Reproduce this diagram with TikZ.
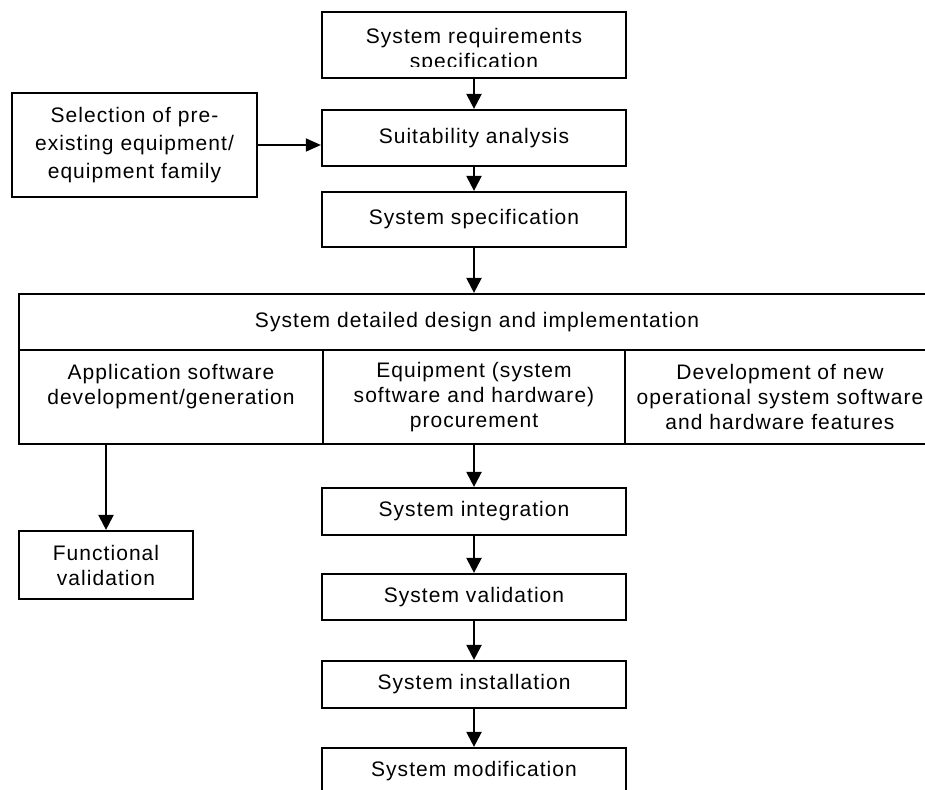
\documentclass[tikz,border=0pt]{standalone}
\usepackage{fontspec}
\setmainfont{Liberation Sans}[LetterSpace=5]
\usetikzlibrary{arrows.meta}

\begin{document}
\begin{tikzpicture}[x=1pt, y=-1pt,
		stepbox/.style={draw, rectangle, line width=2.2pt, inner sep=0pt, align=center, font=\fontsize{21}{25}\selectfont},
		flow/.style={->, line width=2.2pt, >={Triangle[length=15pt, width=15pt]}}]
				\useasboundingbox (0,0) rectangle (925,789);
				\node[stepbox, minimum width=304, minimum height=66] (Req)at(474, 45) {};
				\begin{scope}
					\clip (322,12) rectangle (626,67);
					\node[align=center, font=\fontsize{21}{25}\selectfont] (ReqText)at(474, 51) {System requirements\\specification};
				\end{scope}
				\node[stepbox, minimum width=304, minimum height=56] (Suit)at(474, 138) {Suitability analysis};
				\node[stepbox, minimum width=245, minimum height=104, font=\fontsize{21}{28}\selectfont] (Sel)at(134.5, 145) {Selection of pre-\\existing equipment/\\equipment family};
				\node[stepbox, minimum width=304, minimum height=55] (Spec)at(474, 219.5) {System specification};
				\node[stepbox, minimum width=916, minimum height=56] (Design)at(477, 322) {System detailed design and implementation};
				\node[stepbox, minimum width=304, minimum height=94] (App)at(171, 397) {Application software\\development/generation\\~};
				\node[stepbox, minimum width=302, minimum height=94] (Equip)at(474, 397) {Equipment (system\\software and hardware)\\procurement};
				\node[stepbox, minimum width=310, minimum height=94] (NewDev)at(780, 397) {Development of new\\operational system software\\and hardware features};
				\node[stepbox, minimum width=174, minimum height=68] (Func)at(106, 565) {Functional\\validation};
				\node[stepbox, minimum width=304, minimum height=47] (Integ)at(474, 511.5) {System integration};
				\node[stepbox, minimum width=304, minimum height=46] (Valid)at(474, 597) {System validation};
				\node[stepbox, minimum width=304, minimum height=47] (Install)at(474, 684.5) {System installation};
				\node[stepbox, minimum width=304, minimum height=47] (Modif)at(474, 771.5) {System modification};
				\draw[flow] (Req) -- (Suit);
				\draw[flow, line width=1.4pt, >={Triangle[length=15pt, width=13pt]}] (Sel.east) -- (Sel.east -| Suit.west);
				\draw[flow] (Suit) -- (Spec);
				\draw[flow] (Spec.south) -- (Spec.south |- Design.north);
				\draw[flow] (Func.north |- App.south) -- (Func.north);
				\draw[flow] (Equip.south) -- (Integ.north);
				\draw[flow] (Integ) -- (Valid);
				\draw[flow] (Valid) -- (Install);
				\draw[flow] (Install) -- (Modif);
			\end{tikzpicture}
\end{document}
